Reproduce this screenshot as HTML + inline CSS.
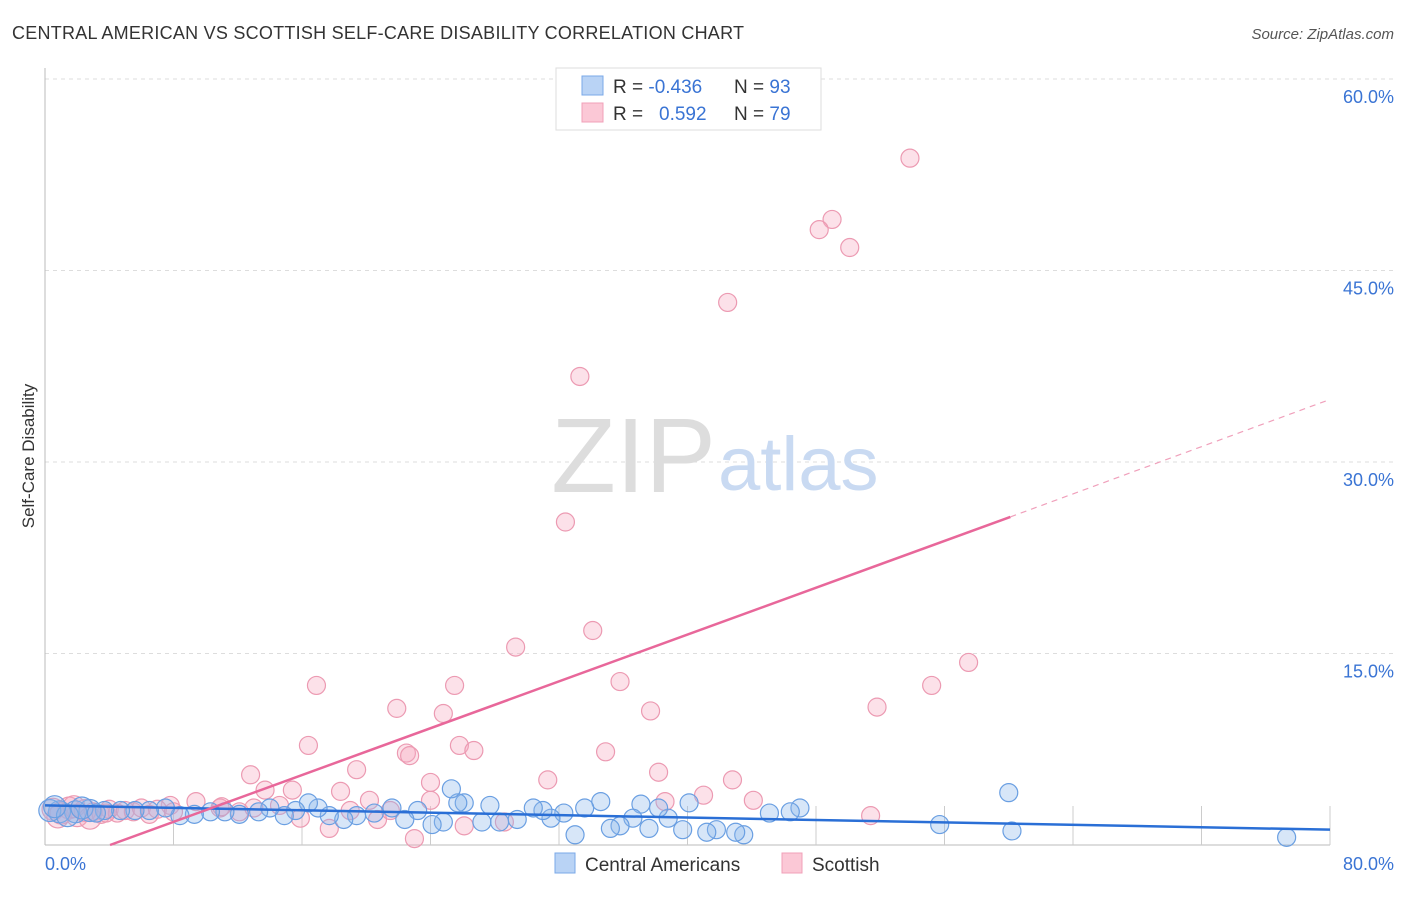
<!DOCTYPE html>
<html><head><meta charset="utf-8"><style>
body{margin:0;background:#fff;font-family:"Liberation Sans",sans-serif}
svg text{font-family:"Liberation Sans",sans-serif}
</style></head><body>
<svg width="1406" height="892" xmlns="http://www.w3.org/2000/svg" id="chart">
<text x="12" y="39" font-size="18" fill="#333" textLength="732">CENTRAL AMERICAN VS SCOTTISH SELF-CARE DISABILITY CORRELATION CHART</text>
<text x="1394" y="39" font-size="15" fill="#555" text-anchor="end" font-style="italic">Source: ZipAtlas.com</text>
<g id="grid"></g>
<text x="716" y="492" font-size="106" fill="#ddd" text-anchor="end" font-family="Liberation Serif">ZIP</text>
<text x="718" y="490" font-size="76" fill="#c9daf2">atlas</text>
<line x1="45" y1="68" x2="45" y2="845" stroke="#bbb"/>
<line x1="45" y1="845" x2="1330" y2="845" stroke="#bbb"/>
<g id="ticks"></g>
<g id="pts"></g>
<g id="lines"></g>
<text transform="translate(34,456) rotate(-90)" font-size="17" fill="#333" text-anchor="middle">Self-Care Disability</text>
<text x="45" y="870" font-size="18" fill="#3a74d4">0.0%</text>
<text x="1394" y="870" font-size="18" fill="#3a74d4" text-anchor="end">80.0%</text>
<g>
<rect x="556" y="68" width="265" height="62" fill="#fff" stroke="#ddd"/>
<rect x="582" y="76" width="21" height="19" fill="#b9d3f5" stroke="#7aa8e8"/>
<rect x="582" y="103" width="21" height="19" fill="#fbc8d6" stroke="#f0a0b8"/>
<text x="613" y="93" font-size="19" fill="#333">R = <tspan fill="#3a74d4">-0.436</tspan></text>
<text x="734" y="93" font-size="19" fill="#333">N = <tspan fill="#3a74d4">93</tspan></text>
<text x="613" y="120" font-size="19" fill="#333">R = </text>
<text x="659" y="120" font-size="19" fill="#3a74d4">0.592</text>
<text x="734" y="120" font-size="19" fill="#333">N = <tspan fill="#3a74d4">79</tspan></text>
</g>
<g>
<rect x="555" y="853" width="20" height="20" fill="#b9d3f5" stroke="#7aa8e8"/>
<text x="585" y="871" font-size="19" fill="#333">Central Americans</text>
<rect x="782" y="853" width="20" height="20" fill="#fbc8d6" stroke="#f0a0b8"/>
<text x="812" y="871" font-size="19" fill="#333">Scottish</text>
</g>
</svg>
<script>
const yTicks=[15,30,45,60];
const yTickLabels=["15.0%","30.0%","45.0%","60.0%"];
const blueX=[77.3,60.2,60.0,55.7,47.0,46.4,45.1,43.5,43.0,41.8,41.2,40.1,39.7,38.8,38.2,37.1,37.6,36.6,35.8,35.2,34.6,33.6,33.0,32.3,31.5,31.0,30.4,29.4,28.3,27.7,27.2,26.1,25.7,25.3,24.8,24.1,23.2,22.4,21.6,20.5,19.4,18.6,17.7,17.0,16.4,15.6,14.9,14.0,13.3,12.1,11.2,10.3,9.3,8.4,7.5,6.5,5.6,4.7,3.7,2.8,1.9,0.9,0.3,1.4,2.3,3.2,0.6];
const blueY=[0.6,1.1,4.1,1.6,2.9,2.6,2.5,0.8,1.0,1.2,1.0,3.3,1.2,2.1,2.9,3.2,1.3,2.1,1.5,1.3,3.4,2.9,0.8,2.5,2.1,2.7,2.9,2.0,1.8,3.1,1.8,3.3,3.3,4.4,1.8,1.6,2.7,2.0,2.9,2.5,2.3,2.0,2.3,2.9,3.3,2.7,2.3,2.9,2.6,2.4,2.6,2.6,2.4,2.3,2.9,2.7,2.7,2.7,2.7,2.7,2.6,2.6,2.7,2.3,2.9,2.5,3.0];
const pinkX=[53.85,49.0,48.2,50.1,42.5,33.3,32.4,29.3,34.1,35.8,37.7,25.5,16.9,21.9,24.8,16.4,22.5,22.7,25.8,26.7,34.9,57.5,55.2,51.8,12.8,19.4,31.3,38.2,42.8,24.0,41.0,44.1,38.6,51.4,17.7,20.7,23.0,26.1,28.6,15.4,13.7,18.4,24.0,9.4,7.8,10.9,12.1,14.6,20.2,21.5,19.0,15.9,0.5,1.0,1.5,2.0,2.5,3.0,3.5,4.0,4.5,5.0,5.5,6.0,6.5,7.0,8.0,0.8,1.8,2.8,3.8,11.0,13.0];
const pinkY=[53.8,49.0,48.2,46.8,42.5,36.7,25.3,15.5,16.8,12.8,10.5,12.5,12.5,10.7,10.3,7.8,7.2,7.0,7.8,7.4,7.3,14.3,12.5,10.8,5.5,5.9,5.1,5.7,5.1,4.9,3.9,3.5,3.4,2.3,1.3,2.0,0.5,1.5,1.8,4.3,4.3,4.2,3.5,3.4,3.1,2.9,2.6,3.1,3.5,2.7,2.7,2.1,2.8,2.5,2.9,2.3,2.7,2.6,2.4,2.8,2.5,2.7,2.6,2.9,2.4,2.8,2.6,2.2,3.0,2.1,2.5,3.0,2.9];
const blueTrend=[[0,3.1],[80,1.2]];
const pinkTrend=[[4.05,0],[60.1,25.7]];
const pinkTrendDash=[[60.1,25.7],[80,34.9]];
const X=v=>45+v/80*1285, Y=v=>845-v/60*766;
const NS="http://www.w3.org/2000/svg";
const mk=(t,a,p)=>{const e=document.createElementNS(NS,t);for(const k in a)e.setAttribute(k,a[k]);p.appendChild(e);return e;};
const grid=document.getElementById('grid');
yTicks.forEach((t,i)=>{
 const l=mk('line',{x1:45,x2:1394,y1:Y(t),y2:Y(t),stroke:'#ddd','stroke-dasharray':'4,4'},grid);
 
 
 const tx=mk('text',{x:1394,y:Y(t)+24,'font-size':18,fill:'#3a74d4','text-anchor':'end'},grid);
 tx.textContent=yTickLabels[i];
 
 
});
const ticks=document.getElementById('ticks');
for(let v=8;v<=80;v+=8){
 const l=mk('line',{x1:X(v),x2:X(v),y1:806,y2:845,stroke:'#ccc'},ticks);
 
 
}
const pts=document.getElementById('pts');
pinkX.forEach((x,i)=>{
 const r=x<3?11:9;
 const c=mk('circle',{cx:X(x),cy:Y(pinkY[i]),r:r,fill:'rgba(247,170,192,0.35)',stroke:'#ec9ab2','stroke-width':1.2},pts);
 
 
});
blueX.forEach((x,i)=>{
 const r=x<3?11:9;
 const c=mk('circle',{cx:X(x),cy:Y(blueY[i]),r:r,fill:'rgba(140,182,236,0.35)',stroke:'#6a9fe2','stroke-width':1.2},pts);
 
 
});
const lines=document.getElementById('lines');
const bl=mk('line',{x1:X(blueTrend[0][0]),y1:Y(blueTrend[0][1]),x2:X(blueTrend[1][0]),y2:Y(blueTrend[1][1]),stroke:'#2a6fd6','stroke-width':2.5},lines);


const pl=mk('line',{x1:X(pinkTrend[0][0]),y1:Y(pinkTrend[0][1]),x2:X(pinkTrend[1][0]),y2:Y(pinkTrend[1][1]),stroke:'#e8679a','stroke-width':2.5},lines);


const pd=mk('line',{x1:X(pinkTrendDash[0][0]),y1:Y(pinkTrendDash[0][1]),x2:X(pinkTrendDash[1][0]),y2:Y(pinkTrendDash[1][1]),stroke:'#f0a0bb','stroke-width':1.2,'stroke-dasharray':'6,5'},lines);


</script>
</body></html>
